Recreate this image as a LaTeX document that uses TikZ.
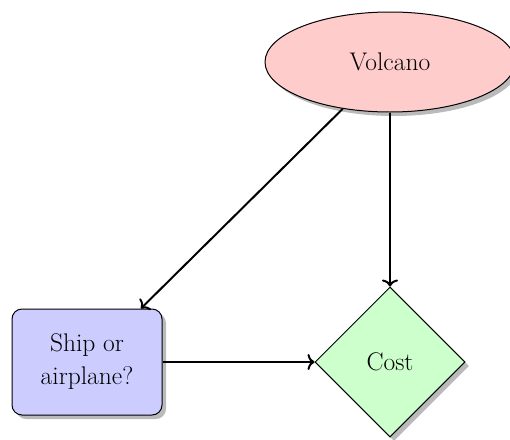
\documentclass[tikz,border=0pt]{standalone}
\usetikzlibrary{shapes.geometric,shadows,arrows.meta}
\begin{document}
\begin{tikzpicture}[x=1pt,y=-1pt,
  every node/.style={font=\fontsize{25.5}{33}\selectfont, align=center, line width=1pt},
  myshadow/.style={drop shadow={shadow xshift=4pt, shadow yshift=-4pt, fill=black!60, opacity=.45}},
  eventnode/.style={ellipse, draw, fill=red!20, myshadow, minimum width=250pt, minimum height=100pt, inner sep=0pt},
  choicenode/.style={rectangle, rounded corners=10pt, draw, fill=blue!20, myshadow, minimum width=150pt, minimum height=106pt, inner sep=0pt},
  utilnode/.style={diamond, draw, fill=green!20, myshadow, minimum width=150pt, minimum height=150pt, inner sep=0pt},
  link/.style={-{To[length=7pt, width=16pt]}, line width=2pt}]
\useasboundingbox (0,0) rectangle (510,439);
\node[eventnode] (volcano) at (390,62) {Volcano};
\node[choicenode] (ship) at (87,362) {Ship or\\airplane?};
\node[utilnode] (cost) at (390,362) {Cost};
\draw[link] (volcano) -- (ship);
\draw[link] (volcano) -- (cost);
\draw[link] (ship) -- (cost);
\end{tikzpicture}
\end{document}
